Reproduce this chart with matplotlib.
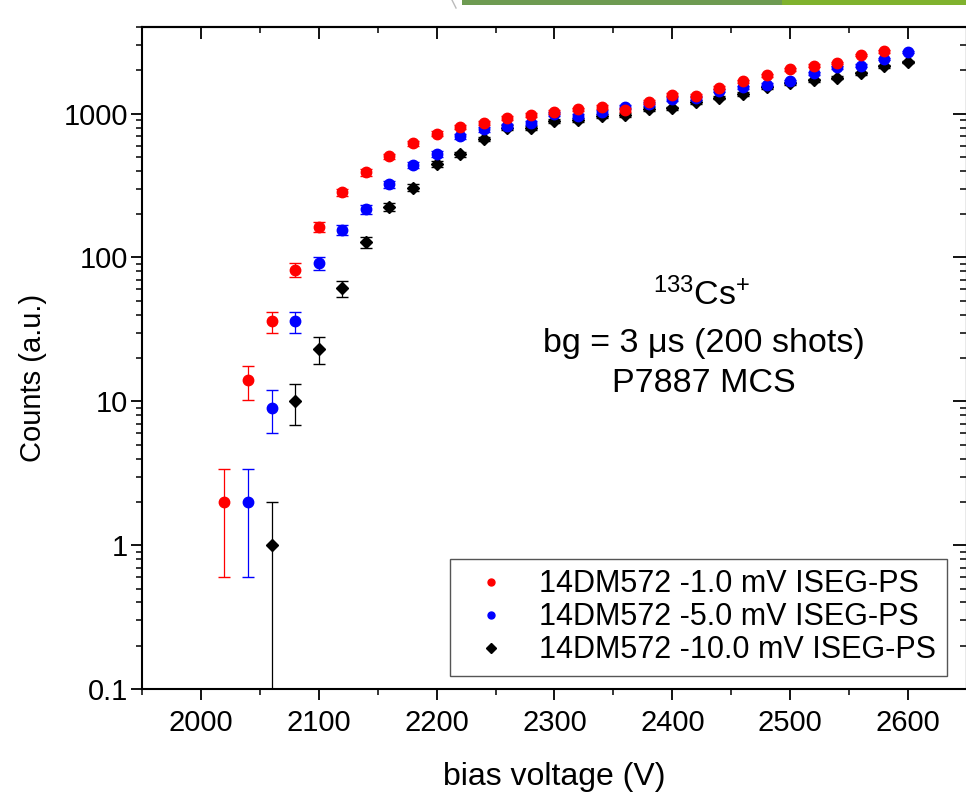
import matplotlib
matplotlib.use("Agg")
import matplotlib.pyplot as plt
from matplotlib.ticker import MultipleLocator, LogLocator, FixedLocator, FixedFormatter, NullFormatter
from matplotlib.patches import Rectangle
from matplotlib.lines import Line2D

plt.rcParams['font.family'] = ['Liberation Sans', 'DejaVu Sans']
plt.rcParams['mathtext.fontset'] = 'custom'
plt.rcParams['mathtext.rm'] = 'Liberation Sans'

# bias voltage (V) and counts, error bars as drawn
volt_red = [2020, 2040, 2060, 2080, 2100, 2120, 2140, 2160, 2180, 2200,
            2220, 2240, 2260, 2280, 2300, 2320, 2340, 2360, 2380, 2400,
            2420, 2440, 2460, 2480, 2500, 2520, 2540, 2560, 2580]
counts_red = [2, 14, 36, 82, 163, 283, 390, 505, 620, 725,
              805, 865, 930, 980, 1022, 1068, 1105, 1065, 1205, 1355,
              1335, 1515, 1680, 1850, 2035, 2150, 2245, 2545, 2710]
err_red = [1.4, 3.7, 6.0, 9.1, 12.8, 16.8, 19.7, 22.5, 24.9, 26.9,
           28.4, 29.4, 30.5, 31.3, 32.0, 32.7, 33.2, 32.6, 34.7, 36.8,
           36.5, 38.9, 41.0, 43.0, 45.1, 46.4, 47.4, 50.4, 52.1]

volt_blue = [2040, 2060, 2080, 2100, 2120, 2140, 2160, 2180, 2200, 2220,
             2240, 2260, 2280, 2300, 2320, 2340, 2360, 2380, 2400, 2420,
             2440, 2460, 2480, 2500, 2520, 2540, 2560, 2580, 2600]
counts_blue = [2, 9, 36, 91, 156, 216, 323, 440, 523, 696,
               776, 820, 860, 998, 962, 1025, 1108, 1172, 1265, 1280,
               1440, 1520, 1585, 1680, 1900, 2100, 2150, 2400, 2680]
err_blue = [1.4, 3.0, 6.0, 9.5, 12.5, 14.7, 18.0, 21.0, 22.9, 26.4,
            27.9, 28.6, 29.3, 31.6, 31.0, 32.0, 33.3, 34.2, 35.6, 35.8,
            37.9, 39.0, 39.8, 41.0, 43.6, 45.8, 46.4, 49.0, 51.8]

volt_black = [2060, 2080, 2100, 2120, 2140, 2160, 2180, 2200, 2220, 2240,
              2260, 2280, 2300, 2320, 2340, 2360, 2380, 2400, 2420, 2440,
              2460, 2480, 2500, 2520, 2540, 2560, 2580, 2600]
counts_black = [1, 10, 23, 61, 128, 225, 305, 446, 522, 667,
                800, 795, 889, 897, 957, 983, 1082, 1085, 1200, 1290,
                1370, 1520, 1620, 1710, 1780, 1900, 2130, 2280]
err_black = [1.0, 3.2, 4.8, 7.8, 11.3, 15.0, 17.5, 21.1, 22.8, 25.8,
             28.3, 28.2, 29.8, 29.9, 30.9, 31.4, 32.9, 32.9, 34.6, 35.9,
             37.0, 39.0, 40.2, 41.4, 42.2, 43.6, 46.2, 47.7]

labels = ["14DM572 -1.0 mV ISEG-PS", "14DM572 -5.0 mV ISEG-PS", "14DM572 -10.0 mV ISEG-PS"]
colors = ['#ff0000', '#0000ff', 'black']
y_ticks = [0.1, 1, 10, 100, 1000]
y_ticklabels = ["0.1", "1", "10", "100", "1000"]

fig = plt.figure(figsize=(9.66, 7.93), dpi=100)
ax = fig.add_axes([0.147, 0.131, 0.854, 0.835])
ax.set_yscale('log')

eb = dict(elinewidth=0.9, capsize=4.5, capthick=1.0)
# black first so red/blue sit on top
ax.errorbar(volt_black, counts_black, yerr=err_black, fmt='D', color=colors[2], ms=6.5,
            zorder=3, **eb)
ax.errorbar(volt_blue, counts_blue, yerr=err_blue, fmt='o', color=colors[1], ms=7.5,
            zorder=4, **eb)
ax.errorbar(volt_red, counts_red, yerr=err_red, fmt='o', color=colors[0], ms=7.5,
            zorder=5, **eb)

ax.set_xlim(1950, 2650)
ax.set_ylim(0.1, 4000)

ax.xaxis.set_major_locator(MultipleLocator(100))
ax.xaxis.set_minor_locator(MultipleLocator(50))
ax.yaxis.set_major_locator(FixedLocator(y_ticks))
ax.yaxis.set_major_formatter(FixedFormatter(y_ticklabels))
ax.yaxis.set_minor_locator(LogLocator(base=10, subs=range(2, 10), numticks=20))
ax.yaxis.set_minor_formatter(NullFormatter())

for s in ax.spines.values():
    s.set_linewidth(1.5)
ax.tick_params(which='major', direction='out', length=8, width=1.3, labelsize=21, pad=2)
ax.tick_params(which='minor', direction='out', length=4, width=1.1)
ax.tick_params(axis='x', which='major', pad=6)
ax.tick_params(top=False, right=False, which='both')

# inward ticks on the top and right frame
top = ax.secondary_xaxis('top')
top.xaxis.set_major_locator(MultipleLocator(100))
top.xaxis.set_minor_locator(MultipleLocator(50))
top.tick_params(which='major', direction='in', length=8.5, width=1.3, labeltop=False)
top.tick_params(which='minor', direction='in', length=4.5, width=1.1)
top.spines['top'].set_linewidth(1.5)

right = ax.secondary_yaxis('right')
right.yaxis.set_major_locator(FixedLocator(y_ticks))
right.yaxis.set_minor_locator(LogLocator(base=10, subs=range(2, 10), numticks=20))
right.tick_params(which='major', direction='in', length=10, width=1.3, labelright=False)
right.tick_params(which='minor', direction='in', length=5, width=1.1, labelright=False)
right.spines['right'].set_linewidth(1.5)

ax.set_xlabel("bias voltage (V)", fontsize=23, labelpad=18)
ax.set_ylabel("Counts (a.u.)", fontsize=21)
ax.yaxis.set_label_coords(-0.115, 0.47)

ax.text(0.679, 0.580, r'$\mathregular{^{133}Cs^{+}}$', transform=ax.transAxes,
        ha='center', va='baseline', fontsize=24.5)
ax.text(0.681, 0.509, "bg = 3 \u03bcs (200 shots)", transform=ax.transAxes,
        ha='center', va='baseline', fontsize=24.5)
ax.text(0.681, 0.449, "P7887 MCS", transform=ax.transAxes,
        ha='center', va='baseline', fontsize=24.5)

# legend shows plain markers only
handles = [Line2D([], [], ls='none', marker='o', ms=5, color=colors[0]),
           Line2D([], [], ls='none', marker='o', ms=5, color=colors[1]),
           Line2D([], [], ls='none', marker='D', ms=5, color=colors[2])]
leg = ax.legend(handles, labels,
                loc='lower right', bbox_to_anchor=(0.9758, 0.0196), borderaxespad=0,
                fontsize=22, handlelength=2.0, handletextpad=0.57,
                borderpad=0.35, labelspacing=0.1, fancybox=False, framealpha=1,
                edgecolor='#555555')
leg.get_frame().set_linewidth(1.0)

# slide decoration at the top edge
fig.add_artist(Rectangle((462 / 966, 1 - 5 / 793), (782 - 462) / 966, 5 / 793,
                         transform=fig.transFigure, color='#6e9b52', lw=0))
fig.add_artist(Rectangle((782 / 966, 1 - 5 / 793), (966 - 782) / 966, 5 / 793,
                         transform=fig.transFigure, color='#80b22e', lw=0))
fig.add_artist(Line2D([452 / 966, 456 / 966], [1, 1 - 8 / 793], transform=fig.transFigure,
                      color='#bbbbbb', lw=1))

fig.savefig("out.png", dpi=100)
